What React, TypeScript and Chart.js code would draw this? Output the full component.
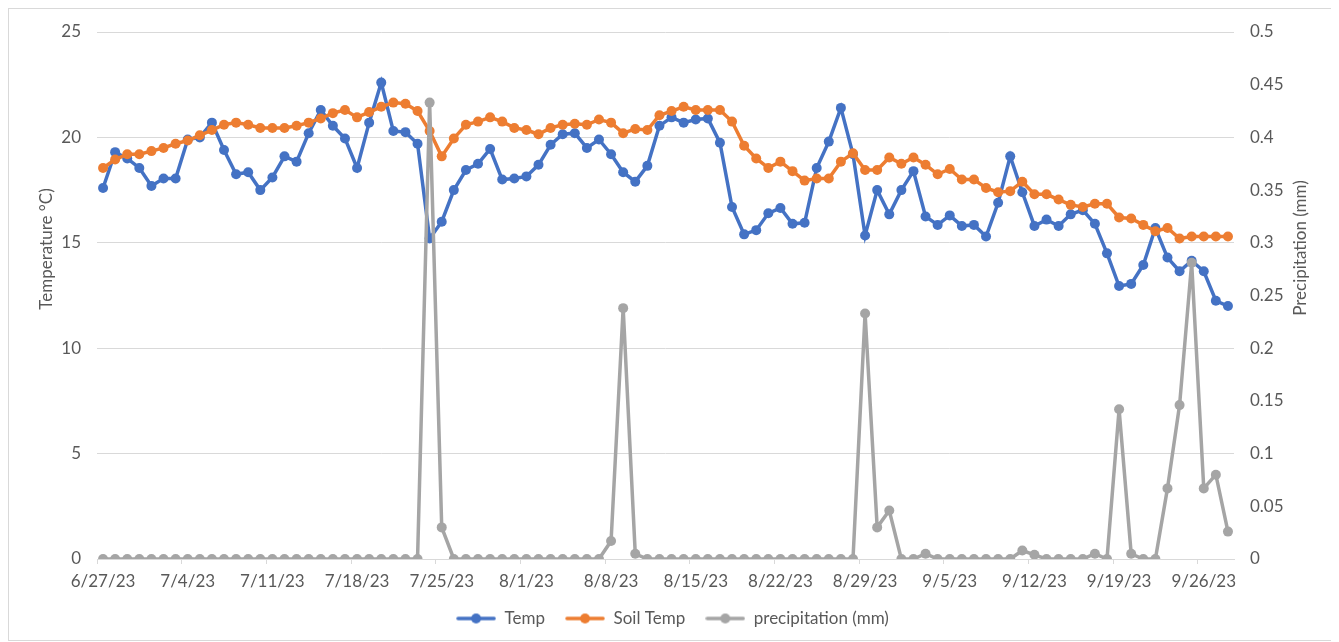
import React, { useEffect, useRef } from 'react';
import { Chart, registerables } from 'chart.js';

Chart.register(...registerables);

const dates = [
  '6/27/23', '6/28/23', '6/29/23', '6/30/23',
  '7/1/23', '7/2/23', '7/3/23', '7/4/23', '7/5/23', '7/6/23', '7/7/23', '7/8/23', '7/9/23', '7/10/23',
  '7/11/23', '7/12/23', '7/13/23', '7/14/23', '7/15/23', '7/16/23', '7/17/23', '7/18/23', '7/19/23', '7/20/23',
  '7/21/23', '7/22/23', '7/23/23', '7/24/23', '7/25/23', '7/26/23', '7/27/23', '7/28/23', '7/29/23', '7/30/23', '7/31/23',
  '8/1/23', '8/2/23', '8/3/23', '8/4/23', '8/5/23', '8/6/23', '8/7/23', '8/8/23', '8/9/23', '8/10/23',
  '8/11/23', '8/12/23', '8/13/23', '8/14/23', '8/15/23', '8/16/23', '8/17/23', '8/18/23', '8/19/23', '8/20/23',
  '8/21/23', '8/22/23', '8/23/23', '8/24/23', '8/25/23', '8/26/23', '8/27/23', '8/28/23', '8/29/23', '8/30/23', '8/31/23',
  '9/1/23', '9/2/23', '9/3/23', '9/4/23', '9/5/23', '9/6/23', '9/7/23', '9/8/23', '9/9/23', '9/10/23',
  '9/11/23', '9/12/23', '9/13/23', '9/14/23', '9/15/23', '9/16/23', '9/17/23', '9/18/23', '9/19/23', '9/20/23',
  '9/21/23', '9/22/23', '9/23/23', '9/24/23', '9/25/23', '9/26/23', '9/27/23', '9/28/23',
];

const temp = [
  17.6, 19.3, 19.0, 18.55, 17.7, 18.05, 18.05, 19.9, 20.0, 20.7,
  19.4, 18.25, 18.35, 17.5, 18.1, 19.1, 18.85, 20.2, 21.3, 20.55,
  19.95, 18.55, 20.7, 22.6, 20.3, 20.25, 19.7, 15.2, 16.0, 17.5,
  18.45, 18.75, 19.45, 18.0, 18.05, 18.15, 18.7, 19.65, 20.15, 20.2,
  19.5, 19.9, 19.2, 18.35, 17.9, 18.65, 20.55, 20.95, 20.7, 20.85,
  20.9, 19.75, 16.7, 15.4, 15.6, 16.4, 16.65, 15.9, 15.95, 18.55,
  19.8, 21.4, 19.2, 15.35, 17.5, 16.35, 17.5, 18.4, 16.25, 15.85,
  16.3, 15.8, 15.85, 15.3, 16.9, 19.1, 17.4, 15.8, 16.1, 15.8,
  16.35, 16.55, 15.9, 14.5, 12.95, 13.05, 13.95, 15.7, 14.3, 13.65,
  14.15, 13.65, 12.25, 12.0,
];

const soilTemp = [
  18.55, 18.95, 19.2, 19.2, 19.35, 19.5, 19.7, 19.85, 20.1, 20.35,
  20.6, 20.7, 20.6, 20.45, 20.45, 20.45, 20.55, 20.7, 20.9, 21.15,
  21.3, 20.95, 21.2, 21.45, 21.65, 21.6, 21.25, 20.3, 19.1, 19.95,
  20.6, 20.75, 20.95, 20.75, 20.45, 20.35, 20.15, 20.45, 20.6, 20.65,
  20.6, 20.85, 20.7, 20.2, 20.4, 20.35, 21.05, 21.25, 21.45, 21.3,
  21.3, 21.3, 20.75, 19.6, 19.0, 18.55, 18.85, 18.4, 17.95, 18.05,
  18.05, 18.85, 19.25, 18.45, 18.45, 19.05, 18.75, 19.05, 18.7, 18.25,
  18.5, 18.0, 18.0, 17.6, 17.4, 17.45, 17.9, 17.3, 17.3, 17.05,
  16.8, 16.7, 16.85, 16.85, 16.2, 16.15, 15.85, 15.55, 15.7, 15.2,
  15.3, 15.3, 15.3, 15.3,
];

const precipitation = [
  0, 0, 0, 0, 0, 0, 0, 0, 0, 0,
  0, 0, 0, 0, 0, 0, 0, 0, 0, 0,
  0, 0, 0, 0, 0, 0, 0, 0.433, 0.03, 0,
  0, 0, 0, 0, 0, 0, 0, 0, 0, 0,
  0, 0, 0.017, 0.238, 0.005, 0, 0, 0, 0, 0,
  0, 0, 0, 0, 0, 0, 0, 0, 0, 0,
  0, 0, 0, 0.233, 0.03, 0.046, 0, 0, 0.005, 0,
  0, 0, 0, 0, 0, 0, 0.008, 0.004, 0, 0,
  0, 0, 0.005, 0, 0.142, 0.005, 0, 0, 0.067, 0.146,
  0.281, 0.067, 0.08, 0.026,
];

const seriesNames = ['Temp', 'Soil Temp', 'precipitation (mm)'];
const seriesColors = ['#4472C4', '#ED7D31', '#A5A5A5'];
const leftTitle = 'Temperature °C)';
const rightTitle = 'Precipitation (mm)';

const FONT = 'Lato, "Open Sans", "DejaVu Sans", sans-serif';
const FONT_SIZE = 17;
const TEXT = '#595959';
const GRID = '#d9d9d9';

function legendIcon(color: string): HTMLCanvasElement {
  const c = document.createElement('canvas');
  c.width = 40;
  c.height = 14;
  const g = c.getContext('2d')!;
  g.strokeStyle = color;
  g.lineWidth = 3.5;
  g.lineCap = 'round';
  g.beginPath();
  g.moveTo(2, 7);
  g.lineTo(38, 7);
  g.stroke();
  g.fillStyle = color;
  g.beginPath();
  g.arc(20, 7, 5, 0, Math.PI * 2);
  g.fill();
  return c;
}

const axisTitlePlugin = {
  id: 'axisTitles',
  afterDraw(chart: any) {
    const ctx = chart.ctx;
    ctx.save();
    ctx.fillStyle = TEXT;
    ctx.font = `${FONT_SIZE}px ${FONT}`;
    ctx.textAlign = 'center';
    ctx.textBaseline = 'middle';
    ctx.save();
    ctx.translate(38, 240);
    ctx.rotate(-Math.PI / 2);
    ctx.fillText(leftTitle, 0, 0);
    ctx.restore();
    ctx.save();
    ctx.translate(chart.width - 35, 239);
    ctx.rotate(-Math.PI / 2);
    ctx.fillText(rightTitle, 0, 0);
    ctx.restore();
    ctx.restore();
  },
};

export default function App() {
  const ref = useRef<HTMLCanvasElement | null>(null);

  useEffect(() => {
    document.documentElement.style.overflow = 'hidden';
    const icons = seriesColors.map(legendIcon);
    const mk = (i: number, data: number[], axis: string, order: number) => ({
      label: seriesNames[i],
      data,
      borderColor: seriesColors[i],
      backgroundColor: seriesColors[i],
      pointBackgroundColor: seriesColors[i],
      pointBorderColor: seriesColors[i],
      pointBorderWidth: 0,
      pointRadius: 5,
      borderWidth: 3.5,
      tension: 0,
      yAxisID: axis,
      order,
    });
    const font = { family: FONT, size: FONT_SIZE };
    const chart = new Chart(ref.current!, {
      type: 'line',
      data: {
        labels: dates,
        datasets: [
          mk(0, temp, 'y', 3),
          mk(1, soilTemp, 'y', 2),
          mk(2, precipitation, 'y1', 1),
        ],
      },
      options: {
        animation: false,
        responsive: true,
        maintainAspectRatio: false,
        layout: { padding: { top: 23, bottom: 3, left: 0, right: 0 } },
        scales: {
          x: {
            offset: true,
            grid: {
              display: true,
              drawOnChartArea: false,
              drawTicks: true,
              tickLength: 5,
              offset: true,
              color: (c: any) => (c.index !== undefined && c.index % 7 === 0 ? GRID : 'rgba(0,0,0,0)'),
            },
            border: { display: true, color: GRID },
            ticks: {
              autoSkip: false,
              maxRotation: 0,
              minRotation: 0,
              padding: 7,
              color: TEXT,
              font,
              callback: (_v: any, i: number) => (i % 7 === 0 ? dates[i] : ''),
            },
            afterFit: (s: any) => { s.height = 31; },
          },
          y: {
            position: 'left',
            min: 0,
            max: 25,
            ticks: { stepSize: 5, padding: 16, color: TEXT, font },
            grid: { color: GRID, drawTicks: false, lineWidth: 1 },
            border: { display: false },
            afterFit: (s: any) => { s.width = 88; s.paddingTop = 0; s.paddingBottom = 0; },
          },
          y1: {
            position: 'right',
            min: 0,
            max: 0.5,
            ticks: {
              stepSize: 0.05,
              padding: 16,
              color: TEXT,
              font,
              callback: (v: any) => String(Math.round(Number(v) * 100) / 100),
            },
            grid: { drawOnChartArea: false, drawTicks: false },
            border: { display: false },
            afterFit: (s: any) => { s.width = 102; s.paddingTop = 0; s.paddingBottom = 0; },
          },
        },
        plugins: {
          tooltip: { enabled: false },
          legend: {
            position: 'bottom',
            align: 'center',
            labels: {
              usePointStyle: true,
              pointStyleWidth: 40,
              boxHeight: 14,
              padding: 20,
              color: TEXT,
              font,
              generateLabels: () =>
                seriesNames.map((name, i) => ({
                  text: name,
                  pointStyle: icons[i],
                  fillStyle: seriesColors[i],
                  strokeStyle: seriesColors[i],
                  lineWidth: 0,
                  hidden: false,
                  datasetIndex: i,
                  fontColor: TEXT,
                })),
            },
          },
        },
      } as any,
      plugins: [axisTitlePlugin],
    });
    return () => chart.destroy();
  }, []);

  return (
    <div
      style={{
        position: 'relative',
        width: 1329,
        height: 633,
        boxSizing: 'border-box',
        border: '1px solid #d9d9d9',
        background: '#fff',
      }}
    >
      <canvas ref={ref} />
    </div>
  );
}
